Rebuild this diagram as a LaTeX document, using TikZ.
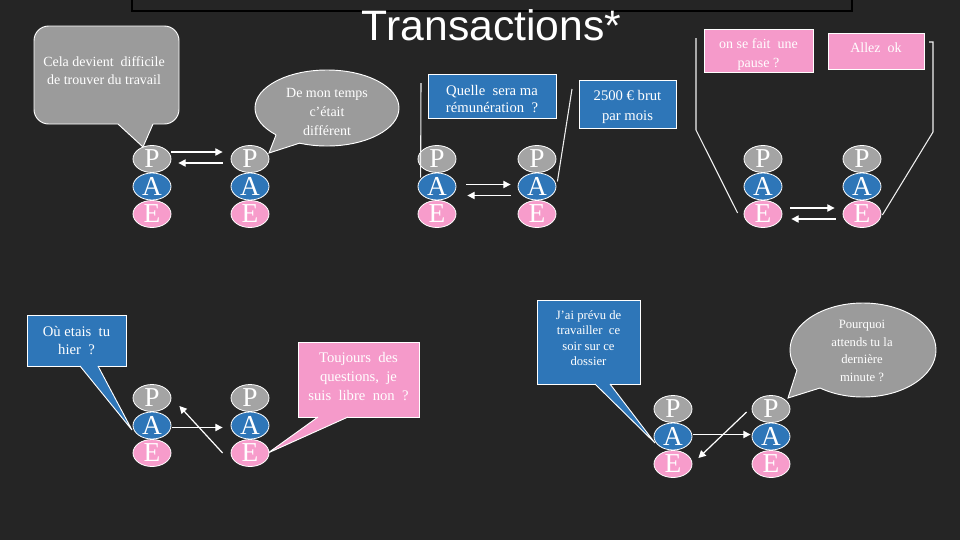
\documentclass[tikz,border=0pt]{standalone}
\usepackage{fontspec}
\setmainfont{Liberation Serif}
\newfontfamily\titlefont{Liberation Sans}
\usetikzlibrary{shapes.geometric,arrows.meta,calc}
\definecolor{bg}{HTML}{252525}
\definecolor{pgray}{HTML}{A4A4A4}
\definecolor{cgray}{HTML}{9B9B9B}
\definecolor{ablue}{HTML}{2E76B8}
\definecolor{epink}{HTML}{F79CCB}
\definecolor{bpink}{HTML}{F59ACA}
\tikzset{
  pae/.style={ellipse, draw=white, line width=0.6pt, minimum width=28.5pt, minimum height=20.25pt, inner sep=0pt, text=white, font=\fontsize{20.5}{20.5}\selectfont},
  pst/.style={pae, fill=pgray},
  ast/.style={pae, fill=ablue},
  est/.style={pae, fill=epink},
  box/.style={draw=white, line width=0.7pt, inner sep=0pt, text=white, align=center},
  ell/.style={ellipse, draw=white, line width=0.7pt, inner sep=0pt},
  edge/.style={white, line width=0.7pt, line join=miter},
  txt/.style={text=white, align=center, inner sep=0pt},
  arr/.style={white, line width=0.9pt, -{Triangle[length=5.5pt,width=5.5pt]}},
  link/.style={white!88!gray, line width=0.8pt},
}
\newcommand\paestack[3]{%
  \node[pst] (#1-p) at (#2,#3) {P};
  \node[ast] (#1-a) at (#2,#3+27.5) {A};
  \node[est] (#1-e) at (#2,#3+55) {E};
}
\begin{document}
\begin{tikzpicture}[x=0.75pt,y=-0.75pt]
\useasboundingbox (0,0) rectangle (960,540);
\fill[bg] (0,0) rectangle (960,540);
\draw[black, line width=0.9pt] (132,-5) rectangle (852,11);
\node[font=\titlefont\fontsize{32}{32}\selectfont, text=white, anchor=base, inner sep=0pt] (title) at (491.5,40) {Transactions*};

% ---------- top-left group ----------
\node[box, fill=cgray, rounded corners=11pt, minimum width=108.75pt, minimum height=73.5pt] (c1) at (106.5,75) {};
\fill[cgray] (118,124) -- (143,147) -- (153,124) -- (153,121) -- (118,121) -- cycle;
\draw[edge] (118,124) -- (143,147) -- (153,124);
\node[txt, font=\fontsize{10.5}{13.5}\selectfont] (t1) at (104,71) {Cela devient\ \ difficile\\de trouver du travail};

\node[ell, fill=cgray, minimum width=108pt, minimum height=57pt] (c2) at (327,108) {};
\fill[cgray] (276,135) -- (269,153) -- (300,143) -- (297,137) -- (279,130) -- cycle;
\draw[edge] (276,135) -- (269,153) -- (300,143);
\node[txt, font=\fontsize{10.5}{14.25}\selectfont] (t2) at (327,112) {De mon temps\\c’était\\différent};

\paestack{tl1}{152}{159}
\paestack{tl2}{250}{159}
\draw[arr] ($(tl1-p.east)+(0,-7)$) -- ($(tl2-p.west)+(-8,-7)$);
\draw[arr] ($(tl2-p.west)+(-8,4)$) -- ($(tl1-p.east)+(7,4)$);

% ---------- top-middle group ----------
\node[box, fill=ablue, minimum width=96pt, minimum height=33pt] (q1) at (492,96) {};
\node[txt, font=\fontsize{11}{12.75}\selectfont] (tq1) at (492,99.5) {Quelle\ \ sera ma\\rémunération\ \ ?};
\node[box, fill=ablue, minimum width=72.75pt, minimum height=36pt] (q2) at (627.5,104) {};
\node[txt, font=\fontsize{11}{15}\selectfont] (tq2) at (627.5,106.5) {2500 € brut\\par mois};
\paestack{tm1}{437}{159}
\paestack{tm2}{537}{159}
\draw[link] (421,83) -- ($(tm1-a.west)+(3,-9)$);
\draw[link] (572,89) -- ($(tm2-a.east)+(1,-5)$);
\draw[arr] ($(tm1-a.east)+(10,-2)$) -- ($(tm2-a.west)+(-7,-2)$);
\draw[arr] ($(tm2-a.west)+(-7,9)$) -- ($(tm1-a.east)+(11,9)$);

% ---------- top-right group ----------
\node[box, fill=bpink, minimum width=81.75pt, minimum height=32.25pt] (r1) at (758.5,50.5) {};
\node[txt, font=\fontsize{10.5}{14.25}\selectfont] (tr1t) at (758.5,54.5) {on se fait\ \ une\\pause ?};
\node[box, fill=bpink, minimum width=72pt, minimum height=27pt] (r2) at (876,51) {};
\node[txt, font=\fontsize{10.5}{13}\selectfont] (tr2t) at (876,48) {Allez\ \ ok};
\paestack{tr1}{763}{159}
\paestack{tr2}{862}{159}
\draw[link] (696,38) -- (696,130) -- ($(tr1-e.west)+(-6,-1)$);
\draw[link] (929,42) -- (933,42) -- (933,132) -- ($(tr2-e.east)+(1,1)$);
\draw[arr] ($(tr1-e.east)+(8,-6)$) -- ($(tr2-e.west)+(-8,-6)$);
\draw[arr] ($(tr2-e.west)+(-7,5)$) -- ($(tr1-e.east)+(9,5)$);

% ---------- bottom-left group ----------
\node[box, fill=ablue, minimum width=74.25pt, minimum height=38.25pt, font=\fontsize{11}{13.5}\selectfont] (b1) at (76.5,340.5) {Où etais\ \ tu\\hier\ \ ?};
\fill[ablue] (80,366) -- (132,430) -- (98,366) -- (98,363) -- (80,363) -- cycle;
\draw[edge] (80,366) -- (132,430) -- (98,366);
\node[box, fill=bpink, minimum width=90.75pt, minimum height=56.25pt] (b2) at (358.5,379.5) {};
\node[txt, font=\fontsize{11}{14.25}\selectfont] (tb2) at (358.5,376.5) {Toujours\ \ des\\questions,\ \ je\\suis\ \ libre\ \ non\ \ ?};
\fill[bpink] (318,417) -- (268,453) -- (348,417) -- (348,414) -- (318,414) -- cycle;
\draw[edge] (318,417) -- (268,453) -- (348,417);
\paestack{bl1}{152}{398}
\paestack{bl2}{250}{398}
\draw[arr] ($(bl1-a.east)+(1,2)$) -- ($(bl2-a.west)+(-8,2)$);
\draw[arr] ($(bl2-e.west)+(-8,0)$) -- ($(bl1-p.east)+(8,8)$);

% ---------- bottom-right group ----------
\node[box, fill=ablue, minimum width=77.25pt, minimum height=63pt] (d1) at (588.5,342) {};
\fill[ablue] (595,384) -- (655,443) -- (610,384) -- (610,381) -- (595,381) -- cycle;
\draw[edge] (595,384) -- (655,443) -- (610,384);
\node[txt, font=\fontsize{9.5}{11.5}\selectfont] (td1) at (588.5,338) {J’ai prévu de\\travailler\ \ ce\\soir sur ce\\dossier};
\node[ell, fill=cgray, minimum width=109.5pt, minimum height=70.5pt] (d2) at (863,350) {};
\fill[cgray] (797,370) -- (788,398) -- (820,388) -- (822,380) -- (800,362) -- cycle;
\draw[edge] (797,370) -- (788,398) -- (820,388);
\node[txt, font=\fontsize{9.5}{13.3}\selectfont] (td2) at (862,351) {Pourquoi\\attends tu la\\dernière\\minute ?};
\paestack{br1}{673}{409}
\paestack{br2}{771}{409}
\draw[arr] ($(br1-a.east)+(1,-2)$) -- ($(br2-a.west)+(-1,-2)$);
\draw[arr] ($(br2-p.west)+(-5,3)$) -- ($(br1-e.east)+(6,-6)$);
\end{tikzpicture}
\end{document}
